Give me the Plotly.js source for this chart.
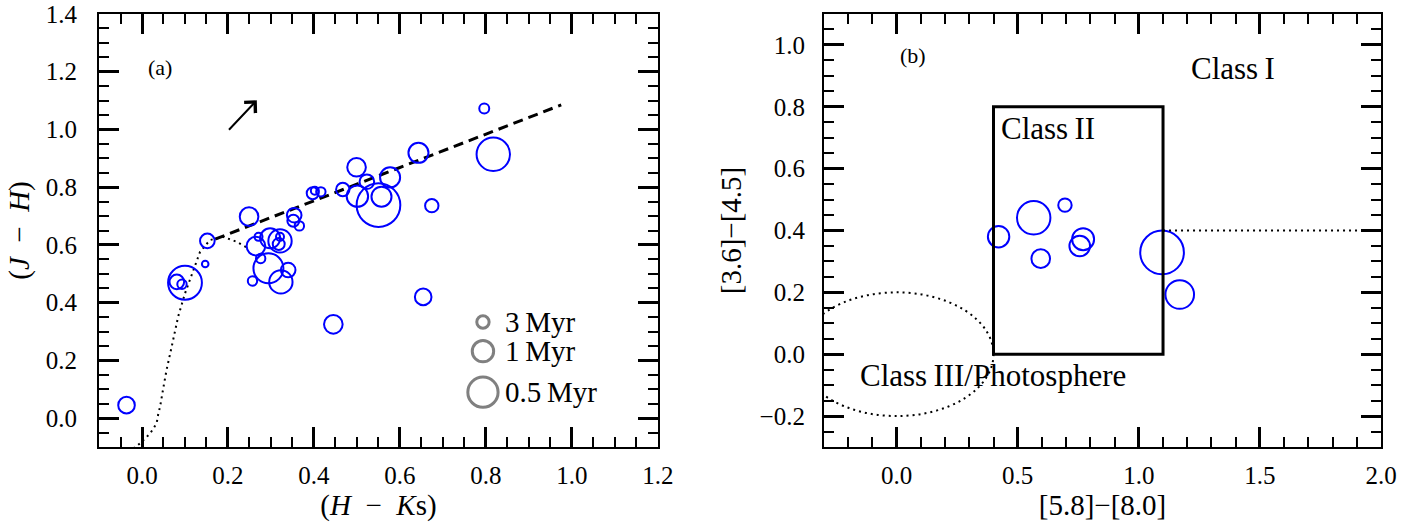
<!DOCTYPE html>
<html>
<head>
<meta charset="utf-8">
<script src="https://cdn.plot.ly/plotly-3.0.1.min.js"></script>
<style>html,body{margin:0;padding:0;background:#fff}#chart{width:1425px;height:525px}</style>
</head>
<body>
<div id="chart"></div>
<script>
// ---- Panel (a): (H-Ks) vs (J-H) ----
const hk = [0.249,0.152,0.147,0.100,0.081,0.093,0.271,0.265,0.298,0.321,0.321,0.318,0.276,0.294,0.340,0.323,0.257,0.354,0.352,0.366,0.397,0.402,0.416,0.467,0.499,0.523,0.501,0.550,0.557,0.577,0.796,0.817,0.643,0.674,0.654,0.445,-0.036];
const jh = [0.698,0.614,0.534,0.469,0.472,0.464,0.628,0.596,0.623,0.614,0.628,0.603,0.553,0.519,0.513,0.472,0.475,0.703,0.684,0.666,0.779,0.788,0.784,0.792,0.869,0.819,0.769,0.738,0.767,0.834,1.073,0.914,0.919,0.736,0.420,0.325,0.045];
const ageA = [1.32,2.15,10.5,0.40,2.15,5.2,7.2,1.32,1.14,0.84,7.2,3.2,5.2,0.51,2.15,0.84,5.2,2.15,3.2,5.2,3.2,7.2,5.2,2.55,1.32,2.15,1.0,0.24,1.14,1.14,4.6,0.41,1.14,2.55,1.66,1.32,1.66];

// CTTS locus (dashed) end points
const cttsX = [0.17, 0.975];
const cttsY = [0.62, 1.085];

// dwarf/giant locus (dotted)
const locusX = [-0.020,-0.005,0.019,0.034,0.038,0.042,0.050,0.057,0.069,0.084,0.100,0.116,0.135,0.158,0.189,0.220,0.244];
const locusY = [-0.105,-0.088,-0.053,-0.018,0.016,0.039,0.108,0.166,0.247,0.351,0.432,0.501,0.576,0.617,0.628,0.611,0.591];

// reddening vector
const redTail = [0.199, 0.994];
const redHead = [0.267, 1.101];

// age legend
const legendAges = [3, 1, 0.5];
const legendLabels = ['3\u2009Myr', '1\u2009Myr', '0.5\u2009Myr'];
const legendX = 0.793;
const legendY = [0.333, 0.232, 0.090];

// ---- Panel (b): [5.8]-[8.0] vs [3.6]-[4.5] ----
const ch34 = [0.421,0.566,0.695,0.595,0.770,0.756,1.096,1.169];
const ch12 = [0.380,0.441,0.482,0.309,0.372,0.350,0.329,0.193];
const ageB = [1.0,0.41,2.55,1.32,0.95,1.08,0.24,0.56];

const classIIbox = {x0:0.4, x1:1.1, y0:0.0, y1:0.8};
const classIline = {x0:1.1, x1:2.0, y:0.4};
const photoEllipse = {cx:0, cy:0, rx:0.4, ry:0.2};

function sz(age){ return 2*10.7*Math.pow(age,-0.5); }

const FONT = 'Liberation Serif';
const LBL = 31;

const traces = [
  {x: locusX, y: locusY, mode:'lines', xaxis:'x', yaxis:'y',
   line:{color:'#000', width:2, dash:'2px,4px'}, hoverinfo:'skip'},
  {x: cttsX, y: cttsY, mode:'lines', xaxis:'x', yaxis:'y',
   line:{color:'#000', width:3, dash:'10px,6px'}, hoverinfo:'skip'},
  {x: hk, y: jh, mode:'markers', xaxis:'x', yaxis:'y',
   marker:{symbol:'circle-open', color:'#0000ff', opacity:1, size: ageA.map(sz), line:{width:2}}},
  {x: legendAges.map(()=>legendX), y: legendY, mode:'markers', xaxis:'x', yaxis:'y',
   marker:{symbol:'circle-open', color:'#808080', opacity:1, size: legendAges.map(sz), line:{width:3}}},
  {x: ch34, y: ch12, mode:'markers', xaxis:'x2', yaxis:'y2',
   marker:{symbol:'circle-open', color:'#0000ff', opacity:1, size: ageB.map(sz), line:{width:2}}}
];

const annotations = [
  {xref:'x', yref:'y', x:redHead[0], y:redHead[1], ax:redTail[0], ay:redTail[1], axref:'x', ayref:'y',
   showarrow:true, arrowhead:4, arrowsize:1.5, arrowwidth:2, arrowcolor:'#000', text:''},
  {xref:'x', yref:'y', x:0.042, y:1.213, text:'(a)', showarrow:false, font:{family:FONT, size:22, color:'#000'}},
  {xref:'x2', yref:'y2', x:0.066, y:0.965, text:'(b)', showarrow:false, font:{family:FONT, size:22, color:'#000'}},
  {xref:'x2', yref:'y2', x:1.388, y:0.923, text:'Class\u2009I', showarrow:false, font:{family:FONT, size:LBL, color:'#000'}},
  {xref:'x2', yref:'y2', x:0.624, y:0.731, text:'Class\u2009II', showarrow:false, font:{family:FONT, size:LBL, color:'#000'}},
  {xref:'x2', yref:'y2', x:0.397, y:-0.07, text:'Class\u2009III/Photosphere', showarrow:false, font:{family:FONT, size:LBL, color:'#000'}}
];
legendLabels.forEach((t,i)=>annotations.push({xref:'x', yref:'y', x:0.84, y:legendY[i], xanchor:'left', text:t,
  showarrow:false, font:{family:FONT, size:29, color:'#000'}}));

const shapes = [
  {type:'rect', xref:'x2', yref:'y2', x0:classIIbox.x0, x1:classIIbox.x1, y0:classIIbox.y0, y1:classIIbox.y1,
   line:{color:'#000', width:3}},
  {type:'line', xref:'x2', yref:'y2', x0:classIline.x0, x1:classIline.x1, y0:classIline.y, y1:classIline.y,
   line:{color:'#000', width:2, dash:'2px,4px'}},
  {type:'circle', xref:'x2', yref:'y2', x0:photoEllipse.cx-photoEllipse.rx, x1:photoEllipse.cx+photoEllipse.rx,
   y0:photoEllipse.cy-photoEllipse.ry, y1:photoEllipse.cy+photoEllipse.ry, line:{color:'#000', width:2, dash:'2px,4px'}}
];

const TICKF = {family:FONT, size:25, color:'#000'};
function ax(o){
  return Object.assign({
    showgrid:false, zeroline:false, showline:true, linecolor:'#000', linewidth:2, mirror:'allticks',
    ticks:'inside', ticklen:20, tickwidth:3, tickcolor:'#000', tickformat:'.1f',
    tickfont:TICKF, fixedrange:true
  }, o);
}
const TF = {family:FONT, size:29, color:'#000'};

const layout = {
  width:1425, height:525, showlegend:false,
  font:{family:FONT, size:25, color:'#000'},
  paper_bgcolor:'#fff', plot_bgcolor:'#fff',
  margin:{l:99, r:44, t:14, b:78},
  xaxis: ax({domain:[0,0.436], range:[-0.1,1.2], dtick:0.2, tick0:0, anchor:'y', ticklabelstandoff:5,
     minor:{dtick:0.05, tick0:0, ticks:'inside', ticklen:10, tickwidth:2, tickcolor:'#000'},
     title:{text:'(<i>H</i>\u2002−\u2002<i>K</i>s)', font:TF, standoff:0}}),
  yaxis: ax({domain:[0,1], range:[-0.1,1.4], dtick:0.2, tick0:0, anchor:'x', ticklabelstandoff:15,
     minor:{dtick:0.05, tick0:0, ticks:'inside', ticklen:10, tickwidth:2, tickcolor:'#000'},
     title:{text:'(<i>J</i>\u2002−\u2002<i>H</i>)', font:TF, standoff:8}}),
  xaxis2: ax({domain:[0.5655,1], range:[-0.3,2.0], dtick:0.5, tick0:0, anchor:'y2', ticklabelstandoff:5,
     minor:{dtick:0.1, tick0:0, ticks:'inside', ticklen:10, tickwidth:2, tickcolor:'#000'},
     title:{text:'[5.8]−[8.0]', font:TF, standoff:0}}),
  yaxis2: ax({domain:[0,1], range:[-0.3,1.1], dtick:0.2, tick0:0, anchor:'x2', ticklabelstandoff:12,
     minor:{dtick:0.05, tick0:0, ticks:'inside', ticklen:10, tickwidth:2, tickcolor:'#000'},
     title:{text:'[3.6]−[4.5]', font:TF, standoff:9}}),
  annotations: annotations,
  shapes: shapes
};

Plotly.newPlot('chart', traces, layout, {displayModeBar:false, staticPlot:true});
</script>
</body>
</html>
